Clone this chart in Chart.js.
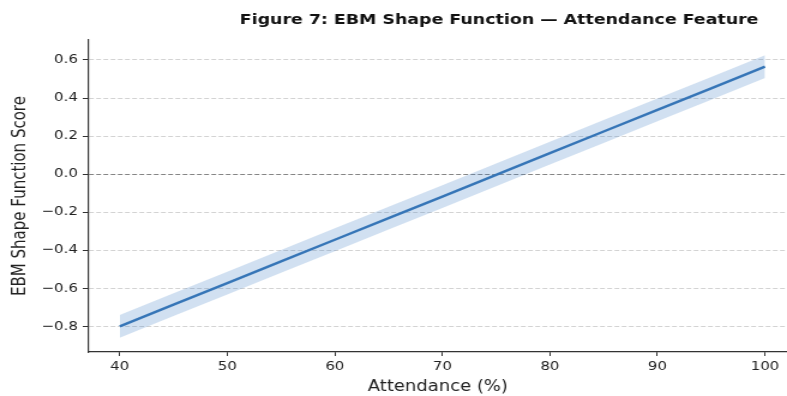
<!DOCTYPE html>
<html>
<head>
<meta charset="utf-8">
<script src="https://cdn.jsdelivr.net/npm/chart.js@4.4.1/dist/chart.umd.min.js"></script>
<style>
  html, body { margin: 0; padding: 0; background: #fff; }
  #wrap { width: 787px; height: 396px; overflow: hidden; }
</style>
</head>
<body>
<!-- the reference figure is stretched sideways, so the canvas is drawn narrow and shown wide -->
<div id="wrap"><canvas id="ebmChart" width="656" height="396" style="display:block;width:787px;height:396px"></canvas></div>
<script>
// attendance values and shape function
const attendance = [40, 45, 50, 55, 60, 65, 70, 75, 80, 85, 90, 95, 100];
const score = [-0.800, -0.686, -0.573, -0.459, -0.345, -0.231, -0.118, -0.004, 0.110, 0.224, 0.338, 0.451, 0.565];
const lowerBand = [-0.860, -0.746, -0.633, -0.519, -0.405, -0.291, -0.178, -0.064, 0.050, 0.164, 0.278, 0.391, 0.505];
const upperBand = [-0.740, -0.626, -0.513, -0.399, -0.285, -0.171, -0.058, 0.056, 0.170, 0.284, 0.398, 0.511, 0.625];
const xTicks = [40, 50, 60, 70, 80, 90, 100];
const yTicks = [-0.8, -0.6, -0.4, -0.2, 0.0, 0.2, 0.4, 0.6];

const toPoints = (ys) => attendance.map((x, i) => ({ x: x, y: ys[i] }));

// figure title, centred over the axes the way matplotlib places it
const titlePlugin = {
    id: 'figTitle',
    afterDraw(chart) {
        const ctx = chart.ctx;
        ctx.save();
        ctx.font = 'bold 14.5px "DejaVu Sans"';
        ctx.fillStyle = '#111';
        ctx.textAlign = 'center';
        ctx.textBaseline = 'middle';
        ctx.fillText('Figure 7: EBM Shape Function \u2014 Attendance Feature', 416, 20);
        ctx.restore();
    }
};

const ctx = document.getElementById('ebmChart').getContext('2d');
new Chart(ctx, {
    type: 'line',
    data: {
        datasets: [
            {
                label: 'lower',
                data: toPoints(lowerBand),
                borderWidth: 0,
                pointRadius: 0,
                fill: false
            },
            {
                label: 'upper',
                data: toPoints(upperBand),
                borderWidth: 0,
                pointRadius: 0,
                backgroundColor: 'rgba(70, 130, 200, 0.25)',
                fill: '-1'
            },
            {
                label: 'Shape function',
                data: toPoints(score),
                borderColor: '#3071b2',
                borderWidth: 2.4,
                pointRadius: 0,
                fill: false
            }
        ]
    },
    options: {
        responsive: false,
        animation: false,
        layout: { padding: { top: 40, right: 0, left: 0, bottom: 0 } },
        plugins: {
            legend: { display: false },
            tooltip: { enabled: false }
        },
        scales: {
            x: {
                type: 'linear',
                min: 37.12,
                max: 102.05,
                afterBuildTicks: (scale) => { scale.ticks = xTicks.map(v => ({ value: v })); },
                afterFit: (scale) => { scale.height = 44; },
                grid: {
                    drawOnChartArea: false,
                    drawTicks: true,
                    tickLength: 4,
                    tickColor: '#333'
                },
                border: { color: '#333', width: 1.2 },
                ticks: {
                    color: '#222',
                    font: { family: 'DejaVu Sans', size: 12.5 },
                    padding: 3,
                    maxRotation: 0
                },
                title: {
                    display: true,
                    text: 'Attendance (%)',
                    color: '#222',
                    font: { family: 'DejaVu Sans', size: 15 },
                    padding: { top: 0, bottom: 0 }
                }
            },
            y: {
                min: -0.935,
                max: 0.705,
                afterBuildTicks: (scale) => { scale.ticks = yTicks.map(v => ({ value: v })); },
                afterFit: (scale) => { scale.width = 74; },
                grid: {
                    color: (c) => (c.tick && Math.abs(c.tick.value) < 1e-9 ? 'rgba(120,120,120,0.9)' : 'rgba(200,200,200,0.8)'),
                    lineWidth: 1,
                    drawTicks: true,
                    tickLength: 5,
                    tickColor: '#333'
                },
                border: { color: '#333', width: 1.2, dash: [4, 2] },
                ticks: {
                    color: '#222',
                    font: { family: 'DejaVu Sans', size: 12.5 },
                    padding: 4,
                    callback: (v) => v.toFixed(1).replace('-', '\u2212')
                },
                title: {
                    display: true,
                    text: 'EBM Shape Function Score',
                    color: '#222',
                    font: { family: 'DejaVu Sans', size: 15 },
                    padding: { top: 8, bottom: 0 }
                }
            }
        }
    },
    plugins: [titlePlugin]
});
</script>
</body>
</html>
